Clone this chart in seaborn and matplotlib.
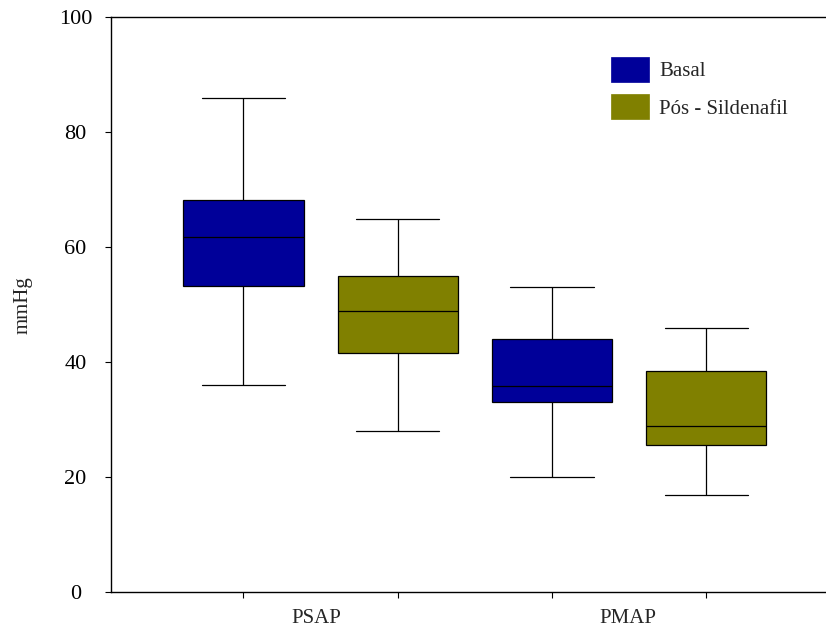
import matplotlib
matplotlib.use("Agg")
import matplotlib.pyplot as plt
from matplotlib.patches import Patch
import numpy as np
import pandas as pd
import seaborn as sns

# Five-number summaries (min, Q1, median, Q3, max) in mmHg
psap_basal = [36.0, 53.3, 61.8, 68.2, 86.0]
psap_pos = [28.0, 41.6, 49.0, 55.0, 65.0]
pmap_basal = [20.0, 33.1, 35.9, 44.1, 53.1]
pmap_pos = [16.9, 25.7, 29.0, 38.5, 45.9]

variables = ["PSAP", "PMAP"]
groups = ["Basal", "Pós - Sildenafil"]
colors = ["#000099", "#808000"]
y_ticks = [0, 20, 40, 60, 80, 100]

series = {
    ("PSAP", "Basal"): psap_basal,
    ("PSAP", "Pós - Sildenafil"): psap_pos,
    ("PMAP", "Basal"): pmap_basal,
    ("PMAP", "Pós - Sildenafil"): pmap_pos,
}

rows = []
for (var, grp), vals in series.items():
    for v in vals:
        rows.append({"slot": f"{var} | {grp}", "grupo": grp, "mmHg": v})
df = pd.DataFrame(rows)
order = [f"{v} | {g}" for v in variables for g in groups]

sns.set_style("ticks")
plt.rcParams["font.family"] = ["Liberation Serif", "DejaVu Serif"]
plt.rcParams["font.size"] = 15

fig = plt.figure(figsize=(8.26, 6.27), dpi=100)
ax = fig.add_axes([0.134, 0.0553, 0.866, 0.917])

sns.boxplot(
    data=df, x="slot", y="mmHg", hue="grupo", order=order,
    hue_order=groups, palette=colors, saturation=1, dodge=False,
    width=0.78, whis=(0, 100), linecolor="black", linewidth=0.9,
    capwidths=0.54, legend=False, ax=ax,
)

ax.set_xlim(-0.861, 3.777)
ax.set_ylim(0, 100)
ax.set_yticks(y_ticks)
ax.set_xticks(range(4))
ax.set_xticklabels([])
ax.set_xlabel("")
ax.set_ylabel("mmHg", fontsize=15, labelpad=19)

for label in ax.get_yticklabels():
    label.set_horizontalalignment("center")
ax.tick_params(axis="y", direction="out", length=4.3, width=0.8,
               labelsize=16, pad=21, colors="black")
ax.tick_params(axis="x", direction="out", length=4.3, width=0.8,
               colors="black")

for side in ["left", "bottom", "top"]:
    ax.spines[side].set_visible(True)
    ax.spines[side].set_color("black")
    ax.spines[side].set_linewidth(1.0)
ax.spines["right"].set_visible(False)

# Variable names centred under each pair of boxes
trans = matplotlib.transforms.blended_transform_factory(ax.transData, ax.transAxes)
for xpos, name in zip([0.47, 2.49], variables):
    ax.text(xpos, -0.046, name, transform=trans, ha="center", va="center",
            fontsize=15)

handles = [Patch(facecolor=c, edgecolor=c, linewidth=0.5) for c in colors]
fig.legend(handles, groups, loc="upper left",
           bbox_to_anchor=(611 / 826, 1 - 57 / 627),
           bbox_transform=fig.transFigure, frameon=False, fontsize=15,
           handlelength=1.82, handleheight=1.45, handletextpad=0.48,
           labelspacing=0.6, borderpad=0, borderaxespad=0)

fig.savefig("out.png", dpi=100, facecolor="white")
